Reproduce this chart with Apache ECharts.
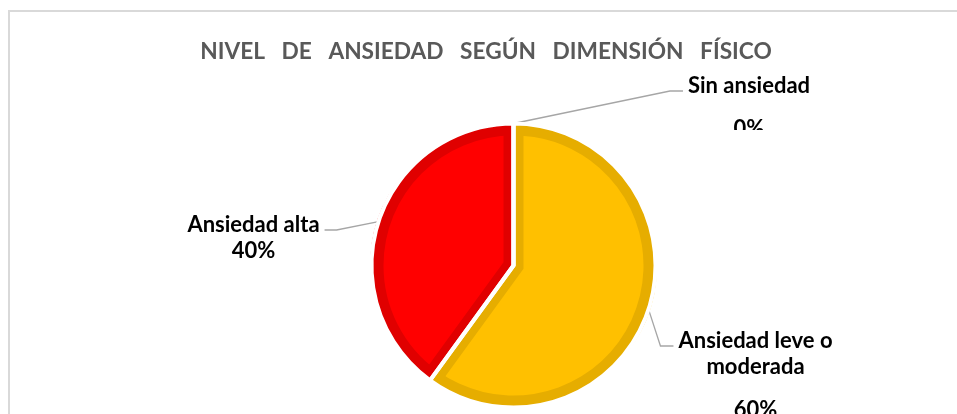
<!DOCTYPE html>
<html><head><meta charset="utf-8">
<script src="https://cdn.jsdelivr.net/npm/echarts@6/dist/echarts.min.js"></script>
<style>html,body{margin:0;padding:0;background:#fff}#c{width:957px;height:414px}</style>
</head><body><div id="c"></div>
<script>
// ---- data ----
const categories = ['Sin ansiedad', 'Ansiedad leve o moderada', 'Ansiedad alta'];
const values = [0, 60, 40];
const nameLines = [['Sin ansiedad'], ['Ansiedad leve o', 'moderada'], ['Ansiedad alta']];
const titleText = 'NIVEL   DE   ANSIEDAD   SEGÚN   DIMENSIÓN   FÍSICO';

// ---- styles / layout ----
const fillColors = ['#8c8c8c', '#ffc000', '#ff0000'];
const edgeColors = ['#7a7a7a', '#e6ad00', '#e00000'];
const labelAnchors = [
  {cx: 749, top: 73, side: 'left', valueStyle: 'v'},
  {cx: 755.5, top: 328, side: 'left', valueStyle: 'v'},
  {cx: 253.5, top: 212, side: 'right', valueStyle: 'n'}
];
const FONT = 'Lato';
const CENTER = [513.5, 265.5];
const R_OUT = 142;      // outer radius (white rim trims to ~140)
const R_IN_BAND = 130;  // inner edge of darker rim
const INSET = 10;       // darker band along radial edges

const chart = echarts.init(document.getElementById('c'), null, {renderer: 'canvas'});

function mkData(colors, extra) {
  return categories.map((c, i) => Object.assign({name: c, value: values[i], itemStyle: {color: colors[i]}}, extra || {}));
}

const option = {
  animation: false,
  backgroundColor: '#fff',
  title: {
    text: titleText,
    left: 481, textAlign: 'center', top: 35,
    textStyle: {fontFamily: FONT, fontWeight: 'bold', fontSize: 22.7, color: '#595959'}
  },
  graphic: [
    {type: 'rect', z: 0, silent: true, shape: {x: 9, y: 11, width: 1000, height: 600},
     style: {fill: 'none', stroke: '#d9d9d9', lineWidth: 2}},
    {type: 'rect', z: 100, silent: true, shape: {x: 712, y: 130, width: 74, height: 22},
     style: {fill: '#fff'}}
  ],
  series: [
    { // darker base disc
      type: 'pie', z: 1, silent: true, center: CENTER, radius: R_OUT,
      data: mkData(edgeColors), label: {show: false}, labelLine: {show: false},
      emphasis: {disabled: true}
    },
    { // lighter fill, pushed out so its straight edges sit INSET px inside
      type: 'pie', z: 2, center: CENTER, radius: 133.2,
      selectedMode: 'multiple', selectedOffset: INSET / Math.sin(72 * Math.PI / 180),
      select: {itemStyle: {borderWidth: 0}},
      data: mkData(fillColors, {selected: true}), label: {show: false}, labelLine: {show: false},
      emphasis: {disabled: true}
    },
    { // darker rim ring
      type: 'pie', z: 3, silent: true, center: CENTER, radius: [R_IN_BAND, R_OUT],
      data: mkData(edgeColors), label: {show: false}, labelLine: {show: false},
      emphasis: {disabled: true}
    },
    { // white separators + labels
      type: 'pie', z: 4, silent: true, center: CENTER, radius: R_OUT,
      avoidLabelOverlap: false,
      emphasis: {disabled: true},
      data: categories.map((c, i) => ({name: c, value: values[i]})),
      itemStyle: {color: 'rgba(0,0,0,0)', borderColor: '#fff', borderWidth: 4},
      label: {
        show: true, position: 'outside',
        formatter: (p) => {
          const i = p.dataIndex;
          const a = labelAnchors[i];
          return nameLines[i].map(l => '{n|' + l + '}').join('\n') + '\n{' + a.valueStyle + '|' + Math.round(p.percent) + '%}';
        },
        rich: {
          n: {fontFamily: FONT, fontWeight: 'bold', fontSize: 22, lineHeight: 26, color: '#000', align: 'center'},
          v: {fontFamily: FONT, fontWeight: 'bold', fontSize: 22, lineHeight: 60, color: '#000', align: 'center'}
        }
      },
      labelLine: {show: true, length: 10, length2: 10, lineStyle: {color: '#a6a6a6', width: 1.3}},
      labelLayout: (params) => {
        const a = labelAnchors[params.dataIndex];
        const w = params.labelRect.width;
        const ly = a.top + 18;
        let end, elbow;
        if (a.side === 'left') { end = [a.cx - w / 2 - 5, ly]; elbow = [end[0] - 13, ly]; }
        else { end = [a.cx + w / 2 + 5, ly]; elbow = [end[0] + 12, ly]; }
        const res = {x: a.cx, y: a.top, align: 'center', verticalAlign: 'top'};
        if (params.labelLinePoints) res.labelLinePoints = [params.labelLinePoints[0], elbow, end];
        return res;
      }
    }
  ]
};
chart.setOption(option);
</script>
</body></html>
